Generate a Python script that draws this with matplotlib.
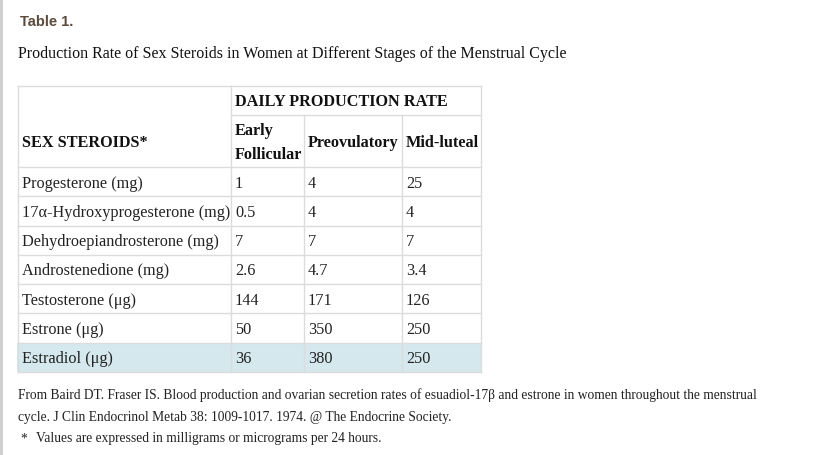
import matplotlib.pyplot as plt
from matplotlib.patches import Rectangle

steroids = ["Progesterone (mg)", "17\u03b1-Hydroxyprogesterone (mg)", "Dehydroepiandrosterone (mg)",
            "Androstenedione (mg)", "Testosterone (\u03bcg)", "Estrone (\u03bcg)", "Estradiol (\u03bcg)"]
early_follicular = ["1", "0.5", "7", "2.6", "144", "50", "36"]
preovulatory = ["4", "4", "7", "4.7", "171", "350", "380"]
mid_luteal = ["25", "4", "7", "3.4", "126", "250", "250"]
stages = ["Early\nFollicular", "Preovulatory", "Mid-luteal"]

title = "Table 1."
subtitle = "Production Rate of Sex Steroids in Women at Different Stages of the Menstrual Cycle"
source = ["From Baird DT. Fraser IS. Blood production and ovarian secretion rates of esuadiol-17\u03b2 and estrone in women throughout the menstrual",
          "cycle. J Clin Endocrinol Metab 38: 1009-1017. 1974. @ The Endocrine Society."]
note = "Values are expressed in milligrams or micrograms per 24 hours."

W, H = 818, 456
fig = plt.figure(figsize=(W / 100, H / 100), dpi=100)
ax = fig.add_axes([0, 0, 1, 1])
ax.set_xlim(0, W)
ax.set_ylim(H, 0)
ax.axis("off")

serif = "Liberation Serif"
pt = 0.72  # px -> pt at 100 dpi
grid = "#dcdcdc"

# left gray bar of the page
ax.add_patch(Rectangle((0, 0), 3, H, color="#cfcfcf", lw=0))

ax.text(20, 22, title, family="Liberation Sans", weight="bold", fontsize=14.6 * pt,
        color="#5b4a3c", va="center")
ax.text(18, 54, subtitle, family=serif, fontsize=16 * pt, color="#111", va="center")

# table layout
cols = [18, 231, 304, 402, 481]
top, h1, h2 = 87, 116, 168
bottom = 373
n = len(steroids)
rh = (bottom - h2) / n
rows = [h2 + i * rh for i in range(n + 1)]

# highlighted last row
ax.add_patch(Rectangle((17, rows[-2]), cols[-1] - 17, rh, color="#d4e8ee", lw=0, zorder=0))

# borders
for y in [top, h1, h2] + rows[1:]:
    x0 = cols[1] if y == h1 else cols[0]
    ax.plot([x0, cols[-1]], [y, y], color=grid, lw=1)
ax.plot([cols[0], cols[0]], [top, bottom], color=grid, lw=1)
ax.plot([cols[1], cols[1]], [top, bottom], color=grid, lw=1)
ax.plot([cols[-1], cols[-1]], [top, bottom], color=grid, lw=1)
for x in cols[2:4]:
    ax.plot([x, x], [h1, bottom], color=grid, lw=1)

fs = 16.2 * pt
ax.text(cols[1] + 4, (top + h1) / 2 + 1, "DAILY PRODUCTION RATE", family=serif, weight="bold",
        fontsize=fs, va="center", color="#111")
ax.text(cols[0] + 4, (h1 + h2) / 2 + 1, "SEX STEROIDS*", family=serif, weight="bold",
        fontsize=fs, va="center", color="#111")
for j, s in enumerate(stages):
    ax.text(cols[j + 1] + 4, (h1 + h2) / 2 + 1, s, family=serif, weight="bold",
            fontsize=fs, va="center", color="#111", linespacing=1.6)

for i in range(n):
    yc = rows[i] + rh / 2 + 1
    vals = [steroids[i], early_follicular[i], preovulatory[i], mid_luteal[i]]
    for j, v in enumerate(vals):
        ax.text(cols[j] + 4, yc, v, family=serif, fontsize=fs, va="center", color="#222")

fs2 = 13.53 * pt
ax.text(18, 395, source[0], family=serif, fontsize=fs2, va="center", color="#222")
ax.text(18, 418, source[1], family=serif, fontsize=fs2, va="center", color="#222")
ax.text(20, 439, "*", family=serif, fontsize=fs2, va="center", color="#222")
ax.text(36, 439, note, family=serif, fontsize=fs2, va="center", color="#222")

fig.savefig("out.png", dpi=100)
